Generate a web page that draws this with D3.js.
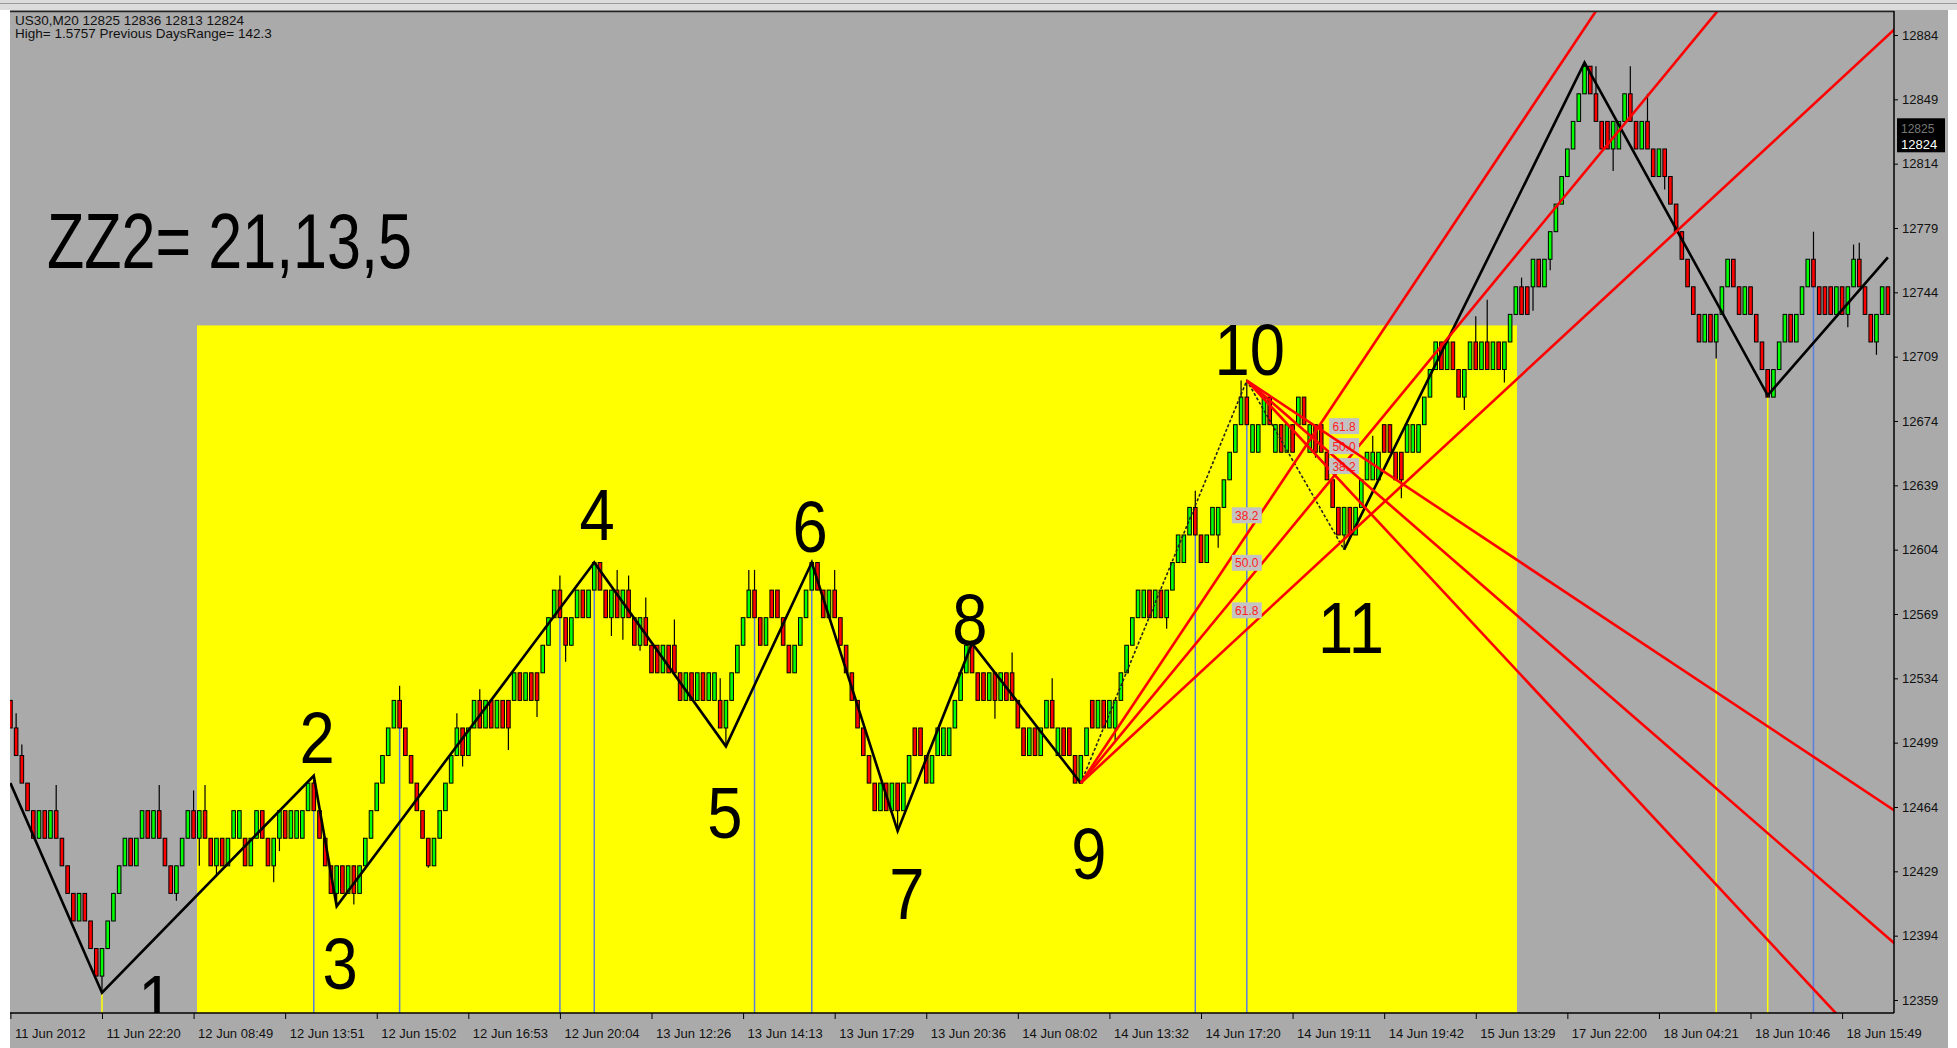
<!DOCTYPE html>
<html>
<head>
<meta charset="utf-8">
<script src="https://cdn.jsdelivr.net/npm/d3@7"></script>
<style>
  html, body { margin: 0; padding: 0; background: #fff; overflow: hidden; }
  svg { display: block; }
</style>
</head>
<body>
<svg id="chart"></svg>
<script>
// US30,M20 candles (price per bar)
const opens = [
  12522,12507,12492,12477,12462,12447,12462,12447,12462,12447,12432,12417,12402,12417,12402,12387,
  12372,12387,12402,12417,12432,12447,12432,12447,12462,12447,12462,12447,12432,12417,12432,12447,
  12462,12447,12462,12447,12432,12447,12432,12447,12447,12447,12432,12447,12462,12447,12432,12447,
  12462,12447,12447,12447,12462,12477,12462,12447,12432,12417,12432,12417,12432,12417,12432,12447,
  12462,12477,12492,12507,12522,12507,12492,12477,12462,12447,12432,12447,12462,12477,12492,12507,
  12492,12507,12522,12507,12522,12507,12522,12522,12522,12537,12522,12537,12537,12537,12552,12567,
  12582,12567,12552,12567,12582,12567,12582,12597,12582,12567,12582,12567,12582,12567,12552,12567,
  12552,12552,12537,12552,12552,12537,12522,12537,12522,12537,12522,12522,12522,12507,12522,12537,
  12552,12567,12582,12567,12552,12582,12582,12567,12552,12537,12552,12567,12582,12597,12582,12567,
  12582,12567,12552,12537,12522,12507,12492,12477,12462,12477,12462,12477,12462,12477,12507,12507,
  12492,12477,12492,12492,12492,12507,12522,12537,12552,12537,12537,12522,12537,12522,12537,12537,
  12522,12507,12492,12507,12492,12507,12522,12492,12507,12507,12492,12477,12492,12522,12507,12522,
  12507,12507,12522,12537,12552,12567,12567,12582,12567,12582,12567,12582,12597,12597,12612,12627,
  12612,12597,12612,12612,12627,12642,12657,12672,12687,12657,12657,12672,12687,12657,12672,12657,
  12672,12672,12687,12657,12672,12672,12657,12642,12627,12612,12627,12612,12627,12642,12642,12642,
  12672,12672,12657,12657,12657,12657,12657,12672,12687,12702,12717,12702,12717,12702,12687,12702,
  12717,12702,12717,12702,12717,12702,12717,12732,12747,12747,12747,12762,12747,12762,12777,12792,
  12807,12822,12837,12852,12867,12852,12837,12837,12822,12822,12837,12852,12837,12822,12837,12822,
  12807,12822,12807,12792,12777,12762,12747,12732,12717,12732,12717,12732,12747,12762,12747,12732,
  12747,12732,12717,12702,12687,12702,12717,12732,12717,12732,12747,12762,12747,12747,12747,12732,
  12747,12732,12747,12762,12747,12732,12717,12732,12747
];
const closes = [
  12507,12492,12477,12462,12447,12462,12447,12462,12447,12432,12417,12402,12417,12402,12387,12372,
  12387,12402,12417,12432,12447,12432,12447,12462,12447,12462,12447,12432,12417,12432,12447,12462,
  12447,12462,12447,12432,12447,12432,12447,12462,12462,12432,12447,12462,12447,12432,12447,12462,
  12447,12462,12462,12462,12477,12462,12447,12432,12417,12432,12417,12432,12417,12432,12447,12462,
  12477,12492,12507,12522,12507,12492,12477,12462,12447,12432,12447,12462,12477,12492,12507,12492,
  12507,12522,12507,12522,12507,12522,12507,12507,12537,12522,12537,12522,12522,12552,12567,12582,
  12567,12552,12567,12582,12567,12582,12597,12582,12567,12582,12567,12582,12567,12552,12567,12552,
  12537,12537,12552,12537,12537,12522,12537,12522,12537,12522,12537,12537,12507,12522,12537,12552,
  12567,12582,12567,12552,12567,12567,12567,12552,12537,12552,12567,12582,12597,12582,12567,12582,
  12567,12552,12537,12522,12507,12492,12477,12462,12477,12462,12477,12462,12477,12492,12492,12492,
  12477,12492,12507,12507,12507,12522,12537,12552,12537,12522,12522,12537,12522,12537,12522,12522,
  12507,12492,12507,12492,12507,12522,12507,12507,12492,12492,12477,12492,12507,12507,12522,12507,
  12522,12522,12537,12552,12567,12582,12582,12567,12582,12567,12582,12597,12612,12612,12627,12612,
  12597,12612,12627,12627,12642,12657,12672,12687,12672,12672,12672,12687,12672,12672,12657,12672,
  12657,12687,12672,12672,12657,12657,12642,12627,12612,12627,12612,12627,12642,12657,12657,12657,
  12657,12657,12642,12642,12672,12672,12672,12687,12702,12717,12702,12717,12702,12687,12702,12717,
  12702,12717,12702,12717,12702,12717,12732,12747,12732,12732,12762,12747,12762,12777,12792,12807,
  12822,12837,12852,12867,12852,12837,12822,12822,12837,12837,12852,12837,12822,12837,12822,12807,
  12822,12807,12792,12777,12762,12747,12732,12717,12732,12717,12732,12747,12762,12747,12732,12747,
  12732,12717,12702,12687,12702,12717,12732,12717,12732,12747,12762,12747,12732,12732,12732,12747,
  12732,12747,12762,12747,12732,12717,12732,12747,12732
];
// wicks that stick out of the bodies: [bar, price]
const wickHighs = [[1,12515],[2,12498],[8,12476],[26,12476],[32,12473],[34,12476],[53,12481],[68,12530],
  [78,12515],[82,12528],[96,12590],[106,12593],[108,12590],[111,12578],[116,12566],[124,12534],[129,12593],
  [130,12593],[144,12593],[175,12548],[182,12534],[207,12636],[215,12696],[216,12696],[238,12666],[256,12731],
  [258,12740],[264,12752],[275,12869],[277,12867],[283,12867],[286,12852],[315,12777],[322,12770],[323,12771]];
const wickLows = [[16,12363],[29,12413],[33,12432],[36,12426],[46,12423],[47,12440],[57,12410],[60,12411],
  [73,12431],[79,12486],[87,12495],[92,12513],[97,12543],[105,12557],[107,12555],[110,12549],[125,12497],
  [155,12451],[172,12512],[193,12500],[202,12561],[211,12605],[228,12654],[233,12604],[243,12632],[254,12680],
  [261,12695],[266,12734],[269,12756],[280,12810],[289,12800],[298,12708],[307,12688],[321,12725],[326,12710]];

// ZigZag turning points [bar, price]
const zigzag = [[0,12477],[16,12363],[53,12481],[57,12410],[102,12597],[125,12497],[140,12597],
  [155,12451],[168,12553],[187,12477],[216,12696],[233,12604],[275,12869],[307,12688],[328,12763]];

// wave numbers, anchored at [bar, baseline price]
const waveNames = ["1","2","3","4","5","6","7","8","9","10","11"];
const waveBars = [25.4, 53.6, 57.6, 102.5, 124.8, 139.7, 156.6, 167.6, 188.4, 216.5, 234.2];
const wavePrices = [12345, 12488, 12365, 12609, 12447, 12603, 12403, 12552, 12425, 12699, 12548];

const fibLevels = [0.382, 0.5, 0.618];
const fibNames = ["38.2", "50.0", "61.8"];

// swing marks (vertical lines from the bar low down)
const blueMarks = [53, 68, 96, 102, 130, 140, 207, 216, 315];
const yellowMarks = [16, 298, 307];

// yellow rectangle [from bar, to bar, top price]
const boxBars = [32.6, 263.2];
const boxTop = 12726;

const priceTicks = [12884,12849,12814,12779,12744,12709,12674,12639,12604,12569,12534,12499,12464,12429,12394,12359];
const timeLabels = ["11 Jun 2012","11 Jun 22:20","12 Jun 08:49","12 Jun 13:51","12 Jun 15:02","12 Jun 16:53",
  "12 Jun 20:04","13 Jun 12:26","13 Jun 14:13","13 Jun 17:29","13 Jun 20:36","14 Jun 08:02","14 Jun 13:32",
  "14 Jun 17:20","14 Jun 19:11","14 Jun 19:42","15 Jun 13:29","17 Jun 22:00","18 Jun 04:21","18 Jun 10:46","18 Jun 15:49"];
const timeBars = d3.range(0, 321, 16);
const lastPrice = 12824;

const width = 1957, height = 1048;
const plot = { left: 10, right: 1894, top: 12, bottom: 1013 };
const smallFont = "13px 'Liberation Sans', Arial, sans-serif";

const svg = d3.select("#chart").attr("width", width).attr("height", height);

const x = d3.scaleLinear().domain([0, 328]).range([10.4, 1887.9]);
const y = d3.scaleLinear().domain([12359, 12884]).range([1000, 35]);

// window background
svg.append("rect").attr("width", width).attr("height", height).attr("fill", "#ffffff");
svg.append("rect").attr("x", plot.left).attr("y", 0).attr("width", 1938).attr("height", height).attr("fill", "#aaaaaa");
svg.append("rect").attr("x", 0).attr("y", 0).attr("width", width).attr("height", 10).attr("fill", "#dcdcdc");
svg.append("line").attr("x1", 0).attr("x2", width).attr("y1", 3.5).attr("y2", 3.5).attr("stroke", "#9a9a9a");

svg.append("clipPath").attr("id", "clip")
  .append("rect").attr("x", plot.left).attr("y", plot.top)
  .attr("width", plot.right - plot.left).attr("height", plot.bottom - plot.top);

const g = svg.append("g").attr("clip-path", "url(#clip)");

// yellow box
g.append("rect")
  .attr("x", x(boxBars[0])).attr("width", x(boxBars[1]) - x(boxBars[0]))
  .attr("y", y(boxTop)).attr("height", plot.bottom - y(boxTop) + 5)
  .attr("fill", "#ffff00");

const bars = opens.map((o, i) => ({ i: i, o: o, c: closes[i], h: Math.max(o, closes[i]), l: Math.min(o, closes[i]) }));
wickHighs.forEach(d => { bars[d[0]].h = Math.max(bars[d[0]].h, d[1]); });
wickLows.forEach(d => { bars[d[0]].l = Math.min(bars[d[0]].l, d[1]); });

// swing marks
function marks(list, color) {
  g.selectAll(null).data(list).enter().append("line")
    .attr("x1", d => x(d)).attr("x2", d => x(d))
    .attr("y1", d => y(bars[d].l)).attr("y2", plot.bottom)
    .attr("stroke", color).attr("stroke-width", 1.5);
}
marks(blueMarks, "#5a7ee0");
marks(yellowMarks, "#ffff00");

// candles
g.selectAll(".wick").data(bars).enter().append("line")
  .attr("x1", d => x(d.i)).attr("x2", d => x(d.i))
  .attr("y1", d => y(d.h)).attr("y2", d => y(d.l))
  .attr("stroke", "#000").attr("stroke-width", 1.2);
g.selectAll(".body").data(bars).enter().append("rect")
  .attr("x", d => x(d.i) - 1.8).attr("width", 3.6)
  .attr("y", d => y(Math.max(d.o, d.c)))
  .attr("height", d => Math.max(1, y(Math.min(d.o, d.c)) - y(Math.max(d.o, d.c))))
  .attr("fill", d => d.c >= d.o ? "#00ff00" : "#ff0000")
  .attr("stroke", "#000").attr("stroke-width", 1);

// fib fans
function fan(from, to, anchorBar) {
  const p0 = zigzag[from], p1 = zigzag[to];
  fibLevels.forEach((lv, k) => {
    const price = p1[1] + lv * (p0[1] - p1[1]);
    const slope = (price - p0[1]) / (anchorBar - p0[0]);
    const endBar = 420;
    g.append("line")
      .attr("x1", x(p0[0])).attr("y1", y(p0[1]))
      .attr("x2", x(endBar)).attr("y2", y(p0[1] + slope * (endBar - p0[0])))
      .attr("stroke", "#ff0000").attr("stroke-width", 2.6);
    const cy = y(price) - 19;
    g.append("rect").attr("x", x(anchorBar) - 15).attr("y", cy - 8)
      .attr("width", 30).attr("height", 16).attr("fill", "#c3c3c3");
    g.append("text").attr("x", x(anchorBar)).attr("y", cy + 4.5)
      .attr("text-anchor", "middle").attr("fill", "#ff2020")
      .style("font", "12px 'Liberation Sans', Arial, sans-serif")
      .text(fibNames[k]);
  });
}

// zigzag
const line = d3.line().x(d => x(d[0])).y(d => y(d[1]));
g.append("path").datum(zigzag.slice(0, 10)).attr("d", line)
  .attr("fill", "none").attr("stroke", "#000").attr("stroke-width", 2.6);
g.append("path").datum(zigzag.slice(9, 12)).attr("d", line)
  .attr("fill", "none").attr("stroke", "#222").attr("stroke-width", 1.6).attr("stroke-dasharray", "3,2");
g.append("path").datum(zigzag.slice(11)).attr("d", line)
  .attr("fill", "none").attr("stroke", "#000").attr("stroke-width", 2.6);

fan(9, 10, zigzag[10][0]);
fan(10, 11, zigzag[11][0]);

// wave numbers
g.selectAll(".wave").data(waveNames).enter().append("text")
  .attr("transform", (d, i) => `translate(${x(waveBars[i])},${y(wavePrices[i])}) scale(0.88,1)`)
  .attr("text-anchor", "middle")
  .style("font", "72px 'Liberation Sans', Arial, sans-serif")
  .attr("fill", "#000")
  .text(d => d);

// ZZ2 label
svg.append("text").attr("x", 47).attr("y", 268)
  .attr("textLength", 365).attr("lengthAdjust", "spacingAndGlyphs")
  .style("font", "77px 'Liberation Sans', Arial, sans-serif")
  .text("ZZ2= 21,13,5");

// header
svg.append("text").attr("x", 15).attr("y", 25)
  .style("font", "13.5px 'Liberation Sans', Arial, sans-serif").attr("fill", "#111")
  .text("US30,M20  12825 12836 12813 12824");
svg.append("text").attr("x", 15).attr("y", 38)
  .style("font", "13.5px 'Liberation Sans', Arial, sans-serif").attr("fill", "#111")
  .text("High= 1.5757 Previous DaysRange= 142.3");

// frame
svg.append("line").attr("x1", plot.left).attr("x2", plot.right).attr("y1", plot.top - 0.5).attr("y2", plot.top - 0.5)
  .attr("stroke", "#222").attr("stroke-width", 1.5);
svg.append("line").attr("x1", plot.right).attr("x2", plot.right).attr("y1", plot.top - 1).attr("y2", plot.bottom)
  .attr("stroke", "#000").attr("stroke-width", 1.5);
svg.append("line").attr("x1", plot.left).attr("x2", plot.right).attr("y1", plot.bottom).attr("y2", plot.bottom)
  .attr("stroke", "#000").attr("stroke-width", 1.5);

// price axis
const yAxis = svg.append("g").attr("transform", `translate(${plot.right},0)`)
  .call(d3.axisRight(y).tickValues(priceTicks).tickSize(4).tickPadding(4).tickFormat(d3.format("d")));
yAxis.select(".domain").remove();
yAxis.selectAll("line").attr("stroke", "#000");
yAxis.selectAll("text").style("font", smallFont).attr("fill", "#111");

// time axis
const xAxis = svg.append("g").attr("transform", `translate(0,${plot.bottom})`)
  .call(d3.axisBottom(x).tickValues(timeBars).tickSize(6).tickFormat((d, i) => timeLabels[i]));
xAxis.select(".domain").remove();
xAxis.selectAll("line").attr("stroke", "#000");
xAxis.selectAll("text").attr("text-anchor", "start").attr("dx", 4).attr("dy", "1.2em")
  .style("font", smallFont).attr("fill", "#111");

// current price tag
const tagY = y(lastPrice);
svg.append("rect").attr("x", plot.right + 3).attr("y", tagY - 27).attr("width", 48).attr("height", 34).attr("fill", "#000");
svg.append("text").attr("x", plot.right + 7).attr("y", tagY - 12)
  .style("font", "12px 'Liberation Sans', Arial, sans-serif").attr("fill", "#777").text("12825");
svg.append("text").attr("x", plot.right + 7).attr("y", tagY + 4)
  .style("font", smallFont).attr("fill", "#fff").text(lastPrice);
</script>
</body>
</html>
